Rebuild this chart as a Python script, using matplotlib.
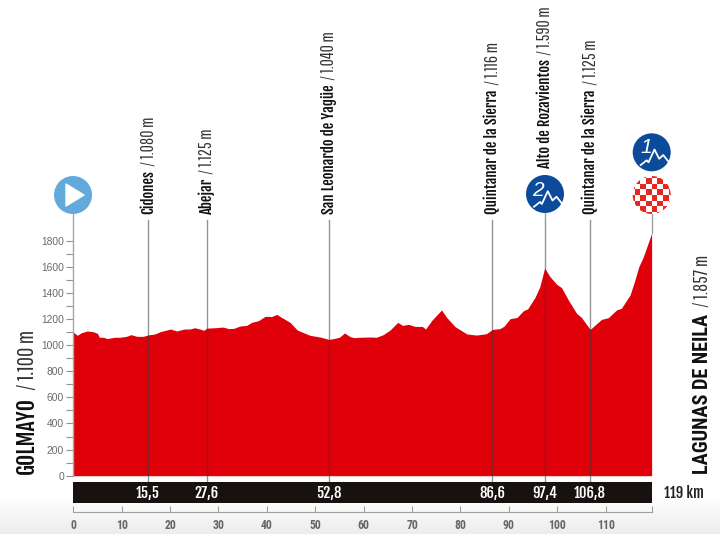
import numpy as np
import matplotlib
matplotlib.use("Agg")
import matplotlib.pyplot as plt
from matplotlib.patches import Circle, Polygon, Rectangle

km = [0,.85,1.7,2.9,4.1,5,5.4,6.3,7,8.6,9.6,11,11.95,13.15,14.45,15.5,16.85,18,20.1,21.4,22.9,24.1,25.1,26.2,27,27.6,29.3,30.95,32.15,33.15,34.45,35.85,36.85,38.25,39.65,40.35,40.95,42.05,43.05,44.8,46.3,47.6,48.9,51,52.8,53.7,55,56.05,57.25,58.05,59.25,61.35,62.65,64.05,65.45,67.05,68.05,69.3,70.6,72.1,72.8,74.1,76.1,77.2,78.9,81.35,83.35,85.35,86.6,88.15,89.05,90.25,91.7,93,93.9,95.4,96.4,97.4,98.5,99.9,100.9,102.3,104,105,106.8,109.15,110.55,112.25,113.25,115.05,116.05,116.85,117.8,119.5]
elev = [1100,1075,1095,1108,1103,1090,1060,1060,1050,1060,1060,1067,1080,1067,1067,1078,1085,1103,1123,1108,1123,1123,1133,1123,1113,1130,1133,1138,1126,1128,1146,1151,1174,1187,1220,1220,1218,1235,1212,1174,1115,1095,1075,1062,1044,1049,1060,1093,1064,1057,1060,1062,1060,1080,1115,1174,1151,1159,1143,1143,1123,1190,1269,1210,1141,1085,1077,1087,1120,1126,1146,1202,1212,1263,1278,1365,1447,1590,1524,1465,1440,1345,1243,1212,1120,1197,1210,1269,1282,1384,1498,1600,1677,1857]
places = ["Cidones","Abejar","San Leonardo de Yagüe","Quintanar de la Sierra","Alto de Rozavientos","Quintanar de la Sierra"]
place_heights = ["1.080 m","1.125 m","1.040 m","1.116 m","1.590 m","1.125 m"]
place_km = [15.5,27.6,52.8,86.6,97.4,106.8]
place_km_labels = ["15,5","27,6","52,8","86,6","97,4","106,8"]
start_name, start_height = "GOLMAYO", "1.100 m"
finish_name, finish_height = "LAGUNAS DE NEILA", "1.857 m"
total_label = "119 km"

NARROW = ["Roboto Condensed", "Liberation Sans"]
HEAVY = ["Fjalla One", "Roboto Condensed", "Liberation Sans"]
THIN = ["Pathway Gothic One", "Roboto Condensed", "Liberation Sans"]
W, H = 720, 534
fig = plt.figure(figsize=(7.2, 5.34), dpi=100)

bg = fig.add_axes([0, 0, 1, 1], zorder=0)
bg.axis("off")
grad = np.ones((534, 1)); grad[495:, 0] = np.linspace(1, .925, 39)
bg.imshow(grad, cmap="gray", vmin=0, vmax=1, aspect="auto")

def box(l, t, r, b):
    return [l / W, (H - b) / H, (r - l) / W, (b - t) / H]

X0, X1, KM_END = 73.2, 652.1, 119.6
ax = fig.add_axes(box(X0, 183, X1, 475.7), zorder=2)
ax.patch.set_alpha(0)
ax.set_xlim(0, KM_END); ax.set_ylim(0, 292.7 / .1306)
ax.fill_between(km, elev, 0, color="#df0009", lw=0)
for s in ("top", "right", "bottom"):
    ax.spines[s].set_visible(False)
ax.spines["left"].set_color("#a8a8a8"); ax.spines["left"].set_linewidth(1)
ax.set_xticks([])
ax.set_yticks(range(0, 1801, 200))
ax.set_yticks(range(100, 1801, 200), minor=True)
ax.tick_params(axis="y", which="both", length=5, width=.8, color="#909090", labelcolor="#6a6a6a",
               labelsize=7.4, pad=1.5)
for t in ax.get_yticklabels():
    t.set_fontfamily("Liberation Sans")

top_y = (475.7 - 220) / .1306
bottom_y = -6 / .1306
for k, name, hgt in zip(place_km, places, place_heights):
    ax.plot([k, k], [bottom_y, top_y], color="#3a3a3a", alpha=.55, lw=1, clip_on=False, zorder=3)
    ypix = 214
    if name.startswith("Alto"):
        ypix = 168
    t = ax.annotate(name, xy=(k, (475.7 - ypix) / .1306), xytext=(3.6, 0), textcoords="offset points",
                    rotation=90, rotation_mode="anchor", ha="left", va="baseline",
                    fontfamily=HEAVY, fontsize=10.6, color="#111111", annotation_clip=False)
    ax.annotate("/ " + hgt, xy=(k, 1), xycoords=("data", t), xytext=(3.6, 3), textcoords="offset points",
                rotation=90, rotation_mode="anchor", ha="left", va="baseline", fontfamily=THIN,
                fontsize=12.8, color="#333333", annotation_clip=False)

# km bar
bar = fig.add_axes(box(X0, 481.7, X1, 503.3), zorder=2)
bar.set_xlim(0, KM_END); bar.set_ylim(0, 1)
bar.set_facecolor("#17110f")
bar.set_xticks([]); bar.set_yticks([])
for s in bar.spines.values():
    s.set_visible(False)
for k, lab in zip(place_km, place_km_labels):
    bar.text(k, .47, lab, color="white", ha="center", va="center", fontfamily=HEAVY, fontsize=10.5)

# km axis
kax = fig.add_axes(box(X0, 505, X1, 511.7), zorder=2)
kax.patch.set_alpha(0)
kax.set_xlim(0, KM_END); kax.set_ylim(0, 1)
for s in ("top", "left", "right"):
    kax.spines[s].set_visible(False)
kax.spines["bottom"].set_color("#a0a0a0")
kax.set_yticks([])
kax.set_xticks(range(0, 111, 10))
kax.set_xticks([119.5], minor=True)
kax.tick_params(axis="x", which="both", direction="in", length=4, width=.8, color="#a0a0a0",
                labelcolor="#666666", labelsize=8.5, pad=5)
for t in kax.get_xticklabels():
    t.set_fontfamily(NARROW); t.set_fontweight("bold")

# overlay in pixel space for the side labels and icons
ov = fig.add_axes([0, 0, 1, 1], zorder=4)
ov.set_xlim(0, W); ov.set_ylim(H, 0); ov.axis("off")
ov.text(664, 492.5, total_label, fontfamily=HEAVY, fontsize=10.5,
        color="#222222", ha="left", va="center")

def side(x, y, name, hgt, family, size, suffix_size, weight="normal"):
    t = ov.text(x, y, name, rotation=90, rotation_mode="anchor", ha="left", va="baseline",
                fontfamily=family, fontweight=weight, fontsize=size, color="#111111")
    ov.annotate("/ " + hgt, xy=(x, 1), xycoords=("data", t), xytext=(0, 5), textcoords="offset points",
                rotation=90, rotation_mode="anchor", ha="left", va="baseline", fontfamily=THIN,
                fontsize=suffix_size, color="#333333")
side(34, 474.5, start_name, start_height, HEAVY, 15.6, 16.5)
side(708, 474.5, finish_name, finish_height, NARROW, 14.6, 14, "bold")

# start icon
ov.add_patch(Circle((73, 195), 19, fc="#62aadb", ec="none"))
ov.add_patch(Polygon([(66, 184), (66, 206), (84, 195)], fc="white", ec="white", lw=1, joinstyle="round"))

def climb(cx, cy, digit, dx, dy):
    ov.add_patch(Circle((cx, cy), 19, fc="#0b4b9a", ec="none"))
    ov.plot(np.array([-11, -5, -3.2, 2.8, 7.5, 11.5, 16.5]) + cx, np.array([12.7, 8, 10, -2.8, 6.5, 2.7, 9]) + cy,
            color="white", lw=1.3, solid_joinstyle="round")
    ov.text(cx + dx, cy + dy, digit, color="white", fontsize=15, fontstyle="italic",
            fontfamily="Liberation Sans", ha="center", va="center")
climb(545, 194, "2", -7.3, -3.3)
climb(651.7, 152.3, "1", -5.7, -5)

# checker icon
cx, cy = 651.7, 195
clip = Circle((cx, cy), 19, transform=ov.transData, fc="white", ec="none")
ov.add_patch(clip)
s = 5.7
for i in range(-4, 4):
    for j in range(-4, 4):
        if (i + j) % 2 == 0:
            r = Rectangle((cx + i * s, cy + j * s), s, s, fc="#e4281f", ec="none")
            ov.add_patch(r)
            r.set_clip_path(clip)
ov.plot([651.7, 651.7], [214, 233], color="#a0a0a0", lw=1)
ov.plot([544.7, 544.7], [213, 220], color="#a0a0a0", lw=1)

fig.savefig("out.png", dpi=100)
